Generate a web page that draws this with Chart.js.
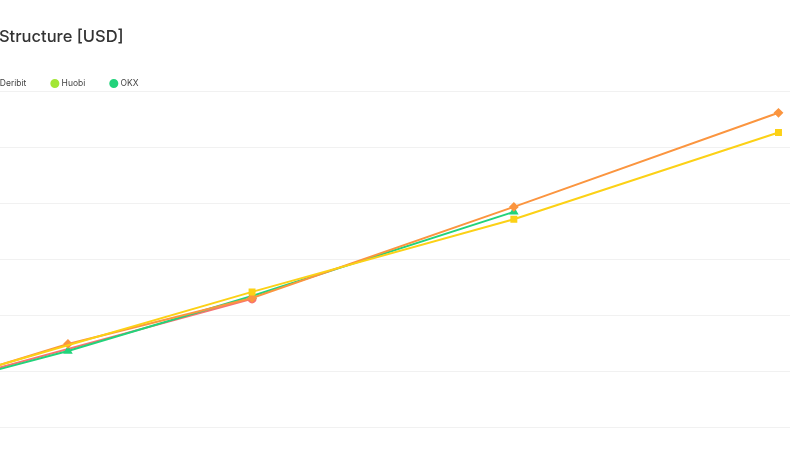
<!DOCTYPE html>
<html>
<head>
<meta charset="utf-8">
<script src="https://cdn.jsdelivr.net/npm/chart.js@4"></script>
<style>
  html, body { margin: 0; padding: 0; background: #fff; }
  #frame { position: relative; width: 800px; height: 450px; overflow: hidden; }
  #box { position: absolute; left: -178px; top: 0; width: 978px; height: 450px; }
</style>
</head>
<body>
<div id="frame"><div id="box"><canvas id="termChart"></canvas></div></div>
<script>
// days to expiry
const binanceDays = [27, 121, 212, 304];
const binancePrices = [65016, 66418, 67720, 69271];
const bitfinexDays = [27, 57, 121, 212, 304];
const bitfinexPrices = [65010, 65487, 66310, 67940, 69624];
const deribitDays = [27, 121];
const deribitPrices = [64976, 66293];
const huobiDays = [];
const huobiPrices = [];
const okxDays = [27, 57, 121, 212];
const okxPrices = [64951, 65361, 66346, 67851];

const yTicks = [64000, 65000, 66000, 67000, 68000, 69000, 70000];

function pairs(days, prices) {
  return days.map((d, i) => ({ x: d, y: prices[i] }));
}

function series(label, days, prices, color, style, order) {
  return {
    label: label,
    data: pairs(days, prices),
    borderColor: color,
    backgroundColor: color,
    borderWidth: 2,
    pointStyle: style,
    pointRadius: 3.5,
    pointHoverRadius: 4,
    tension: 0,
    order: order
  };
}

Chart.defaults.font.family = 'Inter';

// the legend keeps a fixed 10px gap under its row; pull the plot up a little
const legendTrim = {
  id: 'legendTrim',
  afterInit(chart) {
    const lg = chart.legend;
    const fit = lg.fit;
    lg.fit = function () {
      fit.call(this);
      this.height -= 6;
    };
  }
};

new Chart(document.getElementById('termChart'), {
  type: 'line',
  data: {
    datasets: [
      series('Binance', binanceDays, binancePrices, '#fcd116', 'rect', 0),
      series('Bitfinex', bitfinexDays, bitfinexPrices, '#fb953f', 'rectRot', 1),
      series('Deribit', deribitDays, deribitPrices, '#f87171', 'circle', 3),
      series('Huobi', huobiDays, huobiPrices, '#a3e635', 'crossRot', 4),
      series('OKX', okxDays, okxPrices, '#22d37b', 'triangle', 2)
    ]
  },
  options: {
    responsive: true,
    maintainAspectRatio: false,
    animation: false,
    layout: { padding: { left: 10, right: 10, top: 0, bottom: 23 } },
    scales: {
      x: {
        type: 'linear',
        min: 0,
        max: 308,
        display: false
      },
      y: {
        min: yTicks[0],
        max: yTicks[yTicks.length - 1],
        afterFit: s => { s.width = 72; },
        afterBuildTicks: s => { s.ticks = yTicks.map(v => ({ value: v })); },
        border: { display: false },
        grid: { color: '#f1f1f1', drawTicks: false },
        ticks: {
          color: '#888',
          font: { size: 10 },
          callback: v => '$' + (v / 1000).toFixed(0) + 'K'
        }
      }
    },
    plugins: {
      title: {
        display: true,
        text: 'Bitcoin Futures Term Structure [USD]',
        align: 'start',
        color: '#333',
        font: { size: 16.5, weight: '500' },
        padding: { top: 27, bottom: 6.5 }
      },
      legend: {
        align: 'start',
        labels: {
          usePointStyle: true,
          pointStyle: 'circle',
          boxWidth: 5,
          boxHeight: 5,
          padding: 26,
          color: '#444',
          font: { size: 8.5 },
          sort: (a, b) => a.datasetIndex - b.datasetIndex
        }
      },
      tooltip: { enabled: false }
    }
  },
  plugins: [legendTrim]
});
</script>
</body>
</html>
